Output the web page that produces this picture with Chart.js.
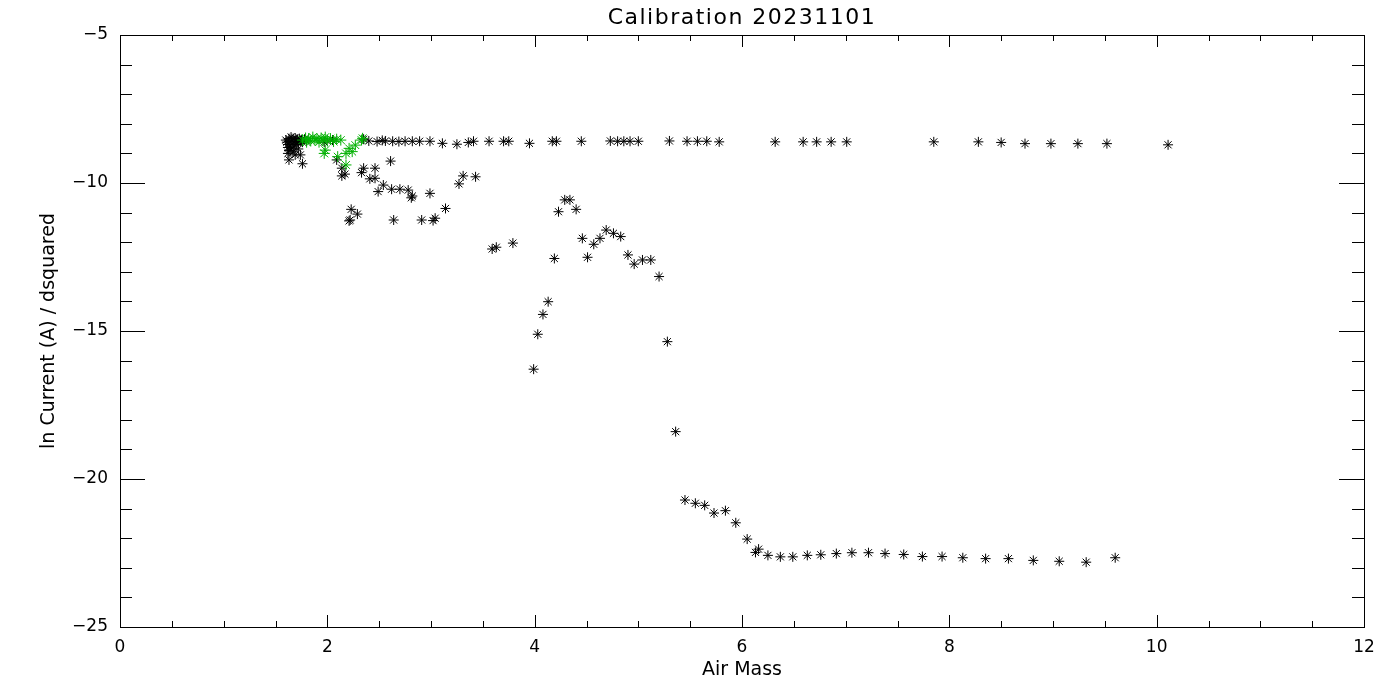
<!DOCTYPE html>
<html>
<head>
<meta charset="utf-8">
<title>Calibration 20231101</title>
<script src="https://cdn.jsdelivr.net/npm/chart.js@4.4.1/dist/chart.umd.min.js"></script>
<style>
  html, body { margin: 0; padding: 0; background: #fff; }
  #wrap { width: 1400px; height: 700px; }
</style>
</head>
<body>
<div id="wrap"><canvas id="calChart" width="1400" height="700"></canvas></div>
<script>
const titleText = 'Calibration 20231101';
const xTitle = 'Air Mass';
const yTitle = 'ln Current (A) / dsquared';

const xTicks = [0, 2, 4, 6, 8, 10, 12];
const yTicks = [-25, -20, -15, -10, -5];

// black points: air mass / ln current
const blackX = [
    1.60, 1.61, 1.62, 1.62, 1.63, 1.63, 1.64, 1.64, 1.65, 1.65, 1.66, 1.66, 1.67, 1.67, 1.68,
    1.68, 1.69, 1.70, 1.70, 1.71, 1.72, 1.72, 1.73, 1.74, 1.75, 1.76, 1.78, 1.80, 1.62, 1.69,
    1.63, 1.76, 1.74, 1.97, 2.05,
    2.35, 2.40, 2.48, 2.53, 2.56, 2.63, 2.69, 2.75, 2.82, 2.89, 2.99, 3.11, 3.25, 3.36, 3.41,
    3.56, 3.70, 3.75, 3.95, 4.17, 4.21, 4.45, 4.73, 4.80, 4.86, 4.92, 5.00, 5.30, 5.47, 5.57,
    5.66, 5.78, 6.32, 6.59, 6.72, 6.86, 7.01, 7.85, 8.28, 8.50, 8.73, 8.98, 9.24, 9.52, 10.11,
    2.09, 2.14, 2.14, 2.17, 2.35, 2.33, 2.46, 2.41, 2.46, 2.54, 2.49, 2.61, 2.62, 2.70, 2.78,
    2.81, 2.82, 2.99, 3.31, 3.43, 3.27, 3.14, 2.23, 2.29, 2.22, 2.21, 2.64, 2.91, 3.02, 3.04,
    3.59, 3.63, 3.79, 4.19, 4.23, 4.29, 4.34, 4.40, 4.46, 4.51, 4.57, 4.63, 4.69, 4.76, 4.83,
    4.90, 4.96, 5.04, 5.12, 5.20, 5.28, 5.36, 4.13, 4.08, 4.03, 3.99,
    5.45, 5.55, 5.64, 5.73, 5.84, 5.94, 6.05, 6.13, 6.16, 6.25, 6.37, 6.49, 6.63, 6.76, 6.91,
    7.06, 7.22, 7.38, 7.56, 7.74, 7.93, 8.13, 8.35, 8.57, 8.81, 9.06, 9.32, 9.60
];
const blackY = [
    -8.55, -8.62, -8.70, -8.80, -8.90, -8.50, -8.60, -8.75, -8.45, -8.85, -8.55, -8.68, -8.95, -8.50, -8.62,
    -8.78, -8.48, -8.58, -8.70, -8.52, -8.62, -8.85, -8.50, -8.58, -8.55, -8.62, -8.52, -8.58, -9.00, -9.05,
    -9.22, -9.35, -9.05, -8.62, -8.55,
    -8.52, -8.58, -8.60, -8.56, -8.58, -8.59, -8.60, -8.59, -8.59, -8.59, -8.59, -8.66, -8.69, -8.63, -8.59,
    -8.59, -8.59, -8.59, -8.66, -8.59, -8.59, -8.59, -8.58, -8.59, -8.59, -8.59, -8.59, -8.58, -8.59, -8.59,
    -8.59, -8.61, -8.61, -8.61, -8.61, -8.61, -8.61, -8.61, -8.61, -8.63, -8.67, -8.67, -8.67, -8.67, -8.71,
    -9.22, -9.50, -9.76, -9.70, -9.50, -9.65, -9.50, -9.86, -9.84, -10.07, -10.29, -9.26, -10.21, -10.21, -10.24,
    -10.50, -10.44, -10.35, -9.76, -9.79, -10.03, -10.86, -10.89, -11.05, -11.25, -11.28, -11.25, -11.25, -11.27, -11.19,
    -12.23, -12.17, -12.03, -12.55, -10.97, -10.57, -10.57, -10.89, -11.87, -12.51, -12.07, -11.87, -11.59, -11.70, -11.81,
    -12.43, -12.74, -12.60, -12.60, -13.16, -15.36, -18.40, -14.01, -14.44, -15.11, -16.29,
    -20.71, -20.82, -20.89, -21.15, -21.07, -21.48, -22.03, -22.48, -22.37, -22.58, -22.63, -22.63, -22.58, -22.56, -22.52,
    -22.49, -22.49, -22.52, -22.55, -22.62, -22.62, -22.66, -22.69, -22.69, -22.75, -22.78, -22.81, -22.66
];

// green points
const greenX = [
    1.76, 1.79, 1.80, 1.82, 1.84, 1.86, 1.88, 1.90, 1.92, 1.94, 1.96, 1.98, 2.00, 2.03, 2.06,
    2.09, 2.13, 2.33, 2.34, 1.97, 1.98, 2.10, 2.18, 2.21, 2.24, 2.27, 2.18
];
const greenY = [
    -8.55, -8.48, -8.62, -8.50, -8.58, -8.45, -8.55, -8.50, -8.62, -8.48, -8.55, -8.45, -8.58, -8.50, -8.60,
    -8.52, -8.55, -8.55, -8.49, -9.00, -8.89, -9.11, -9.00, -8.83, -8.94, -8.72, -9.39
];

const toPoints = (xs, ys) => xs.map((x, i) => ({ x, y: ys[i] }));
const labelFont = { family: 'DejaVu Sans', size: 17 };
const titleFont = { family: 'DejaVu Sans', size: 19 };
const minus = v => (v < 0 ? '\u2212' + Math.abs(v) : String(v));

// IDL style box: frame + inward ticks on all four sides, title over the plot
const idlFrame = {
    id: 'idlFrame',
    afterDraw(chart) {
        const { ctx, chartArea: a, scales: { x, y } } = chart;
        ctx.save();
        ctx.strokeStyle = '#000';
        ctx.lineWidth = 1;
        ctx.strokeRect(a.left + 0.5, a.top + 0.5, a.right - a.left, a.bottom - a.top);
        ctx.beginPath();
        for (let v = 0; v <= 12; v += 0.5) {
            const px = Math.round(x.getPixelForValue(v)) + 0.5;
            const len = v % 2 === 0 ? 12 : 6;
            ctx.moveTo(px, a.bottom); ctx.lineTo(px, a.bottom - len);
            ctx.moveTo(px, a.top); ctx.lineTo(px, a.top + len);
        }
        for (let v = -25; v <= -5; v += 1) {
            const py = Math.round(y.getPixelForValue(v)) + 0.5;
            const len = v % 5 === 0 ? 25 : 12;
            ctx.moveTo(a.left, py); ctx.lineTo(a.left + len, py);
            ctx.moveTo(a.right, py); ctx.lineTo(a.right - len, py);
        }
        ctx.stroke();
        ctx.fillStyle = '#000';
        ctx.font = '22px "DejaVu Sans"';
        ctx.letterSpacing = '1.5px';
        ctx.textAlign = 'center';
        ctx.textBaseline = 'middle';
        ctx.fillText(titleText, (a.left + a.right) / 2, 18);
        ctx.restore();
    }
};

new Chart(document.getElementById('calChart'), {
    type: 'scatter',
    data: {
        datasets: [
            {
                label: 'green',
                data: toPoints(greenX, greenY),
                pointStyle: 'star',
                pointRadius: 5.5,
                borderWidth: 1,
                borderColor: '#00b000',
                backgroundColor: '#00b000'
            },
            {
                label: 'black',
                data: toPoints(blackX, blackY),
                pointStyle: 'star',
                pointRadius: 5,
                borderWidth: 1,
                borderColor: '#000',
                backgroundColor: '#000'
            }
        ]
    },
    options: {
        responsive: false,
        animation: false,
        devicePixelRatio: 1,
        layout: { padding: { left: 34, right: 36, top: 35, bottom: 15 } },
        plugins: { legend: { display: false }, tooltip: { enabled: false }, title: { display: false } },
        scales: {
            x: {
                type: 'linear',
                min: 0,
                max: 12,
                afterFit: s => { s.height = 58; },
                afterBuildTicks: s => { s.ticks = xTicks.map(value => ({ value })); },
                grid: { display: false, drawTicks: false },
                border: { display: false },
                ticks: { color: '#000', font: labelFont, padding: 10, maxRotation: 0 },
                title: { display: true, text: xTitle, color: '#000', font: titleFont }
            },
            y: {
                type: 'linear',
                min: -25,
                max: -5,
                afterFit: s => { s.width = 86; },
                afterBuildTicks: s => { s.ticks = yTicks.map(value => ({ value })); },
                grid: { display: false, drawTicks: false },
                border: { display: false },
                ticks: { color: '#000', font: labelFont, padding: 12, callback: minus },
                title: { display: true, text: yTitle, color: '#000', font: titleFont }
            }
        }
    },
    plugins: [idlFrame]
});
</script>
</body>
</html>
